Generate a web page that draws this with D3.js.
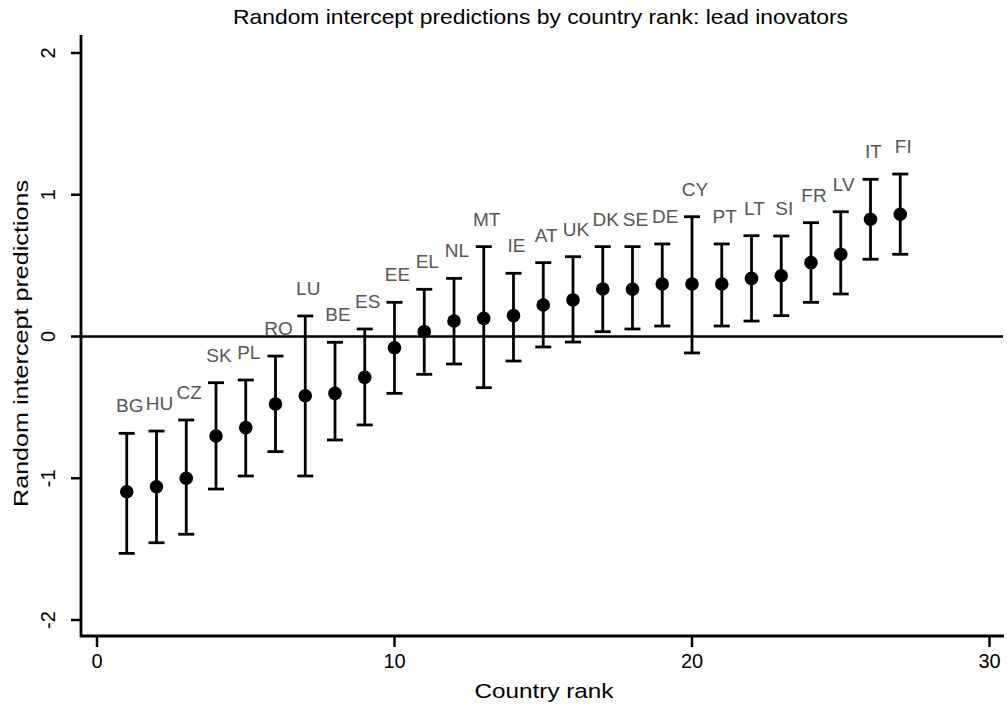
<!DOCTYPE html>
<html lang="en">
<head>
    <meta charset="UTF-8">
    <title>Random intercept predictions by country rank</title>
    <script src="https://d3js.org/d3.v7.min.js"></script>
    <style>
        body {
            margin: 0;
            background-color: #fff;
            font-family: "Liberation Sans", Arial, sans-serif;
        }
        .country-label {
            fill: #555;
            font-size: 19px;
        }
        .tick-label {
            font-size: 20px;
            fill: #000;
        }
        .axis-title {
            font-size: 21px;
            fill: #000;
        }
    </style>
</head>
<body>
    <svg id="chart" width="1007" height="711"></svg>
    <script>
        const width = 1007;
        const height = 711;

        // Data
        const countries = ["BG", "HU", "CZ", "SK", "PL", "RO", "LU", "BE", "ES", "EE",
                           "EL", "NL", "MT", "IE", "AT", "UK", "DK", "SE", "DE", "CY",
                           "PT", "LT", "SI", "FR", "LV", "IT", "FI"];
        const ranks = [1, 2, 3, 4, 5, 6, 7, 8, 9, 10, 11, 12, 13, 14, 15, 16, 17, 18, 19, 20,
                       21, 22, 23, 24, 25, 26, 27];
        const estimates = [-1.095, -1.06, -1.0, -0.702, -0.643, -0.476, -0.418, -0.401, -0.288, -0.079,
                           0.034, 0.109, 0.128, 0.147, 0.222, 0.258, 0.335, 0.333, 0.37, 0.37,
                           0.37, 0.41, 0.429, 0.521, 0.58, 0.827, 0.862];
        const lower = [-1.53, -1.455, -1.395, -1.076, -0.984, -0.812, -0.984, -0.73, -0.624, -0.401,
                       -0.267, -0.194, -0.361, -0.173, -0.074, -0.039, 0.034, 0.053, 0.074, -0.116,
                       0.074, 0.109, 0.147, 0.241, 0.3, 0.545, 0.58];
        const upper = [-0.683, -0.667, -0.589, -0.326, -0.307, -0.138, 0.145, -0.041, 0.053, 0.241,
                       0.333, 0.41, 0.634, 0.446, 0.521, 0.563, 0.634, 0.634, 0.653, 0.845,
                       0.653, 0.711, 0.709, 0.803, 0.88, 1.109, 1.146];
        const xTicks = [0, 10, 20, 30];
        const yTicks = [-2, -1, 0, 1, 2];

        const data = countries.map((c, i) => ({
            country: c, rank: ranks[i], est: estimates[i], lo: lower[i], hi: upper[i]
        }));

        // Scales
        const x = d3.scaleLinear().domain([0, 30]).range([97, 989.5]);
        const y = d3.scaleLinear().domain([-2, 2]).range([620, 53]);

        const plotLeft = 81, plotRight = 1004, plotTop = 35, plotBottom = 636;

        const svg = d3.select("#chart");

        // Title
        svg.append("text")
            .attr("class", "axis-title")
            .attr("x", 540.5).attr("y", 24)
            .attr("text-anchor", "middle")
            .attr("textLength", 615)
            .attr("lengthAdjust", "spacingAndGlyphs")
            .text("Random intercept predictions by country rank: lead inovators");

        // Zero reference line
        svg.append("line")
            .attr("x1", plotLeft).attr("x2", 1003)
            .attr("y1", y(0)).attr("y2", y(0))
            .attr("stroke", "#000").attr("stroke-width", 2.5);

        // Axes lines
        svg.append("line")
            .attr("x1", plotLeft).attr("x2", plotLeft)
            .attr("y1", plotTop).attr("y2", plotBottom + 1)
            .attr("stroke", "#000").attr("stroke-width", 2.8);
        svg.append("line")
            .attr("x1", plotLeft - 1).attr("x2", plotRight)
            .attr("y1", plotBottom).attr("y2", plotBottom)
            .attr("stroke", "#000").attr("stroke-width", 2.8);

        // Y ticks
        const yAxis = svg.append("g");
        yAxis.selectAll("line")
            .data(yTicks)
            .enter().append("line")
            .attr("x1", plotLeft - 10).attr("x2", plotLeft)
            .attr("y1", d => y(d)).attr("y2", d => y(d))
            .attr("stroke", "#000").attr("stroke-width", 2.5);
        yAxis.selectAll("text")
            .data(yTicks)
            .enter().append("text")
            .attr("class", "tick-label")
            .attr("text-anchor", "middle")
            .attr("transform", d => `translate(55, ${y(d)}) rotate(-90)`)
            .text(d => d);

        // X ticks
        const xAxis = svg.append("g");
        xAxis.selectAll("line")
            .data(xTicks)
            .enter().append("line")
            .attr("x1", d => x(d)).attr("x2", d => x(d))
            .attr("y1", plotBottom).attr("y2", plotBottom + 11)
            .attr("stroke", "#000").attr("stroke-width", 2.5);
        xAxis.selectAll("text")
            .data(xTicks)
            .enter().append("text")
            .attr("class", "tick-label")
            .attr("text-anchor", "middle")
            .attr("x", d => x(d)).attr("y", 668)
            .text(d => d);

        // Axis titles
        svg.append("text")
            .attr("class", "axis-title")
            .attr("x", 544).attr("y", 698)
            .attr("text-anchor", "middle")
            .attr("textLength", 139)
            .attr("lengthAdjust", "spacingAndGlyphs")
            .text("Country rank");
        svg.append("text")
            .attr("class", "axis-title")
            .attr("text-anchor", "middle")
            .attr("transform", "translate(28, 343.5) rotate(-90)")
            .attr("textLength", 327)
            .attr("lengthAdjust", "spacingAndGlyphs")
            .text("Random intercept predictions");

        // Error bars
        const bars = svg.append("g").attr("stroke", "#000").attr("stroke-width", 2.8);
        bars.selectAll(".whisker")
            .data(data)
            .enter().append("line")
            .attr("class", "whisker")
            .attr("x1", d => x(d.rank)).attr("x2", d => x(d.rank))
            .attr("y1", d => y(d.lo)).attr("y2", d => y(d.hi));
        bars.selectAll(".cap-hi")
            .data(data)
            .enter().append("line")
            .attr("class", "cap-hi")
            .attr("x1", d => x(d.rank) - 8).attr("x2", d => x(d.rank) + 8)
            .attr("y1", d => y(d.hi)).attr("y2", d => y(d.hi));
        bars.selectAll(".cap-lo")
            .data(data)
            .enter().append("line")
            .attr("class", "cap-lo")
            .attr("x1", d => x(d.rank) - 8).attr("x2", d => x(d.rank) + 8)
            .attr("y1", d => y(d.lo)).attr("y2", d => y(d.lo));

        // Points
        svg.append("g").selectAll("circle")
            .data(data)
            .enter().append("circle")
            .attr("cx", d => x(d.rank))
            .attr("cy", d => y(d.est))
            .attr("r", 6.8)
            .attr("fill", "#000");

        // Country labels above upper bound
        svg.append("g").selectAll("text")
            .data(data)
            .enter().append("text")
            .attr("class", "country-label")
            .attr("text-anchor", "middle")
            .attr("x", d => x(d.rank) + 3)
            .attr("y", d => y(d.hi) - 21)
            .text(d => d.country);
    </script>
</body>
</html>
